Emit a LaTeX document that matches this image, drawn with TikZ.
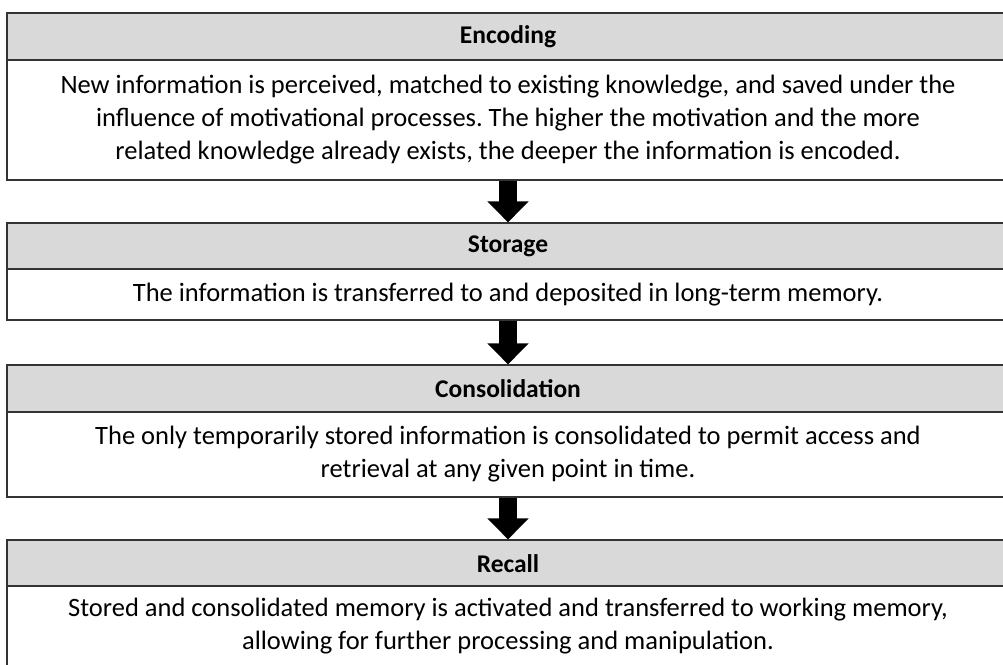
\documentclass[tikz,border=0pt]{standalone}
\usepackage{fontspec}
\setmainfont{Carlito}
\usetikzlibrary{arrows.meta}
\frenchspacing
\tikzset{
  hdr/.style={draw=black!80, line width=1.2pt, fill=gray!30, minimum width=1002pt, inner sep=0pt,
    font=\fontsize{25.5}{30}\selectfont\bfseries},
  bodybox/.style={draw=black!80, line width=1.2pt, fill=white, minimum width=1002pt, inner sep=0pt,
    align=center, font=\fontsize{26.5}{33}\selectfont},
  bigarrow/.style={line width=18pt, -{Triangle[width=40pt,length=21pt]}, black}
}
\begin{document}
\begin{tikzpicture}[x=1pt,y=-1pt]
\useasboundingbox (0,0) rectangle (1003,664);
\node[hdr, minimum height=47pt] (h1) at (508,36.5) {Encoding};
\node[bodybox, minimum height=120pt] (b1) at (508,120) {New information is perceived, matched to existing knowledge, and saved under the\\ influence of motivational processes. The higher the motivation and the more\\ related knowledge already exists, the deeper the information is encoded.};
\node[hdr, minimum height=46pt] (h2) at (508,246) {Storage};
\node[bodybox, minimum height=51pt] (b2) at (508,294.5) {The information is transferred to and deposited in long-term memory.};
\node[hdr, minimum height=47pt] (h3) at (508,388.5) {Consolidation};
\node[bodybox, minimum height=85pt] (b3) at (508,454.5) {The only temporarily stored information is consolidated to permit access and\\ retrieval at any given point in time.};
\node[hdr, minimum height=47pt] (h4) at (508,563.5) {Recall};
\node[bodybox, minimum height=80pt] (b4) at (508,626) {Stored and consolidated memory is activated and transferred to working memory,\\ allowing for further processing and manipulation.};
\draw[bigarrow] (b1.south) -- (h2.north);
\draw[bigarrow] (b2.south) -- (h3.north);
\draw[bigarrow] (b3.south) -- (h4.north);
\end{tikzpicture}
\end{document}
